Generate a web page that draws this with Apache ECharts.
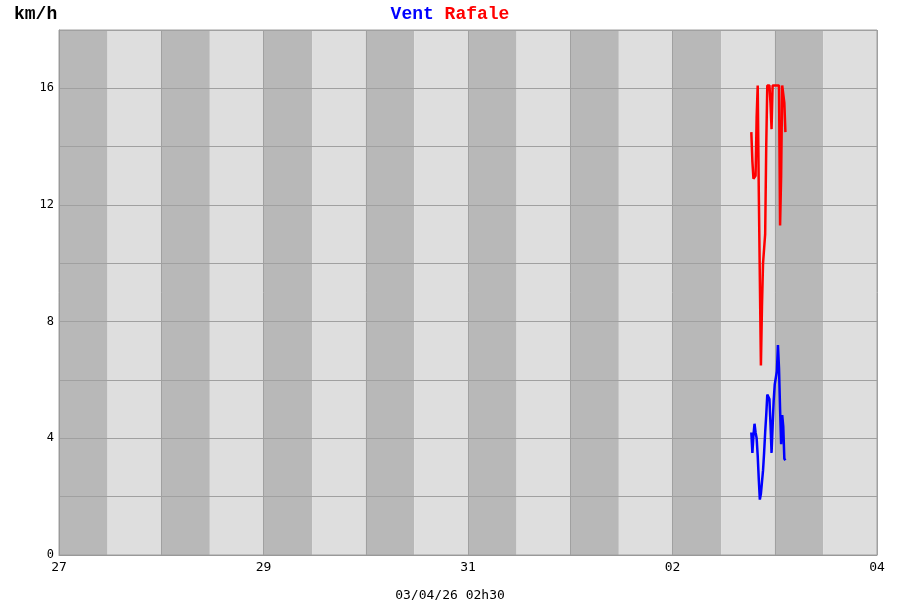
<!DOCTYPE html>
<html>
<head>
<meta charset="utf-8">
<script src="https://cdn.jsdelivr.net/npm/echarts@6/dist/echarts.min.js"></script>
<style>html,body{margin:0;padding:0;background:#fff}#c{width:900px;height:600px}</style>
</head>
<body>
<div id="c"></div>
<script>
// Day labels of the x axis (27 March -> 04 April 2026)
const days = ['27', '28', '29', '30', '31', '01', '02', '03', '04'];
const dayTickLabels = ['27', '', '29', '', '31', '', '02', '', '04'];
const yTickLabels = [0, 4, 8, 12, 16];

// Observation times (day hh:mm)
const times = [
  '02 18:30', '02 18:45', '02 19:00', '02 19:15', '02 19:30', '02 19:45',
  '02 20:00', '02 20:15', '02 20:30', '02 20:45', '02 21:00', '02 21:15',
  '02 21:30', '02 21:45', '02 22:00', '02 22:15', '02 22:30', '02 22:45',
  '02 23:00', '02 23:15', '02 23:30', '02 23:45', '03 00:00', '03 00:15',
  '03 00:30', '03 00:45', '03 01:00', '03 01:15', '03 01:30', '03 01:45',
  '03 02:00', '03 02:15', '03 02:30'
];
// Vent (km/h)
const vent = [
  4.2, 3.5, 4.1, 4.5, 4.2, 4.0,
  3.4, 2.6, 1.9, 2.1, 2.5, 2.9,
  3.5, 4.2, 4.8, 5.5, 5.55, 5.35,
  4.5, 3.5, 4.4, 5.3, 5.85, 5.9,
  6.3, 7.2, 6.4, 5.0, 3.8, 4.8,
  4.4, 3.3, 3.25
];
// Rafale (km/h)
const rafale = [
  14.5, 13.5, 12.9, 12.9, 13.0, 15.0,
  16.1, 12.5, 9.5, 6.5, 8.5, 10.0,
  10.5, 11.0, 14.0, 16.1, 16.1, 16.1,
  15.5, 14.6, 16.1, 16.1, 16.1, 16.1,
  16.1, 16.1, 16.1, 11.3, 13.0, 16.1,
  16.1, 15.5, 14.5
];

function toX(t) {
  const [d, hm] = t.split(' ');
  const [h, m] = hm.split(':').map(Number);
  return days.indexOf(d) + (h + m / 60) / 24;
}
const ventData = times.map((t, i) => [toX(t), vent[i]]);
const rafaleData = times.map((t, i) => [toX(t), rafale[i]]);

// Alternating bands: dark first part of each day, light remainder
const NIGHT = 0.475;
const bandAreas = [];
for (let d = 0; d < days.length - 1; d++) {
  bandAreas.push([{ xAxis: d, itemStyle: { color: '#b8b8b8' } }, { xAxis: d + NIGHT }]);
  bandAreas.push([{ xAxis: d + NIGHT, itemStyle: { color: '#dedede' } }, { xAxis: d + 1 }]);
}

const chart = echarts.init(document.getElementById('c'), null, { renderer: 'canvas' });
const mono = 'DejaVu Sans Mono';
chart.setOption({
  animation: false,
  backgroundColor: '#ffffff',
  title: [
    {
      text: '{a|Vent }{b|Rafale}',
      left: 'center', top: 0,
      textStyle: {
        rich: {
          a: { color: '#0000ff', fontFamily: 'Liberation Mono', fontWeight: 'bold', fontSize: 18 },
          b: { color: '#ff0000', fontFamily: 'Liberation Mono', fontWeight: 'bold', fontSize: 18 }
        }
      }
    },
    {
      text: 'km/h', left: 9, top: 0,
      textStyle: { color: '#000', fontFamily: 'Liberation Mono', fontWeight: 'bold', fontSize: 18 }
    },
    {
      text: '03/04/26 02h30', left: 'center', top: 584,
      textStyle: { color: '#000', fontFamily: mono, fontWeight: 'normal', fontSize: 13 }
    }
  ],
  grid: { left: 59, right: 23, top: 30, bottom: 45, show: true, z: 3, borderColor: '#a0a0a0', borderWidth: 1, backgroundColor: 'transparent' },
  xAxis: {
    type: 'value', min: 0, max: days.length - 1, interval: 1, z: 3,
    axisLine: { show: true, lineStyle: { color: '#999' } },
    axisTick: { show: false },
    axisLabel: {
      color: '#000', fontFamily: mono, fontSize: 13, margin: 6,
      formatter: v => dayTickLabels[Math.round(v)] || ''
    },
    splitLine: { show: true, lineStyle: { color: '#a0a0a0', width: 1 } }
  },
  yAxis: {
    type: 'value', min: 0, max: 18, interval: 2, z: 3,
    axisLine: { show: true, lineStyle: { color: '#999' } },
    axisTick: { show: false },
    axisLabel: {
      color: '#000', fontFamily: mono, fontSize: 12, margin: 5,
      formatter: v => yTickLabels.indexOf(v) >= 0 ? String(v) : ''
    },
    splitLine: { show: true, lineStyle: { color: '#a0a0a0', width: 1 } }
  },
  series: [
    {
      type: 'line', data: [], z: 1, silent: true,
      markArea: { silent: true, z: 1, data: bandAreas }
    },
    {
      name: 'Vent', type: 'line', data: ventData, showSymbol: false, z: 6,
      lineStyle: { color: '#0000ff', width: 2.5 }, itemStyle: { color: '#0000ff' }
    },
    {
      name: 'Rafale', type: 'line', data: rafaleData, showSymbol: false, z: 6,
      lineStyle: { color: '#ff0000', width: 2.5 }, itemStyle: { color: '#ff0000' }
    }
  ]
});
</script>
</body>
</html>
